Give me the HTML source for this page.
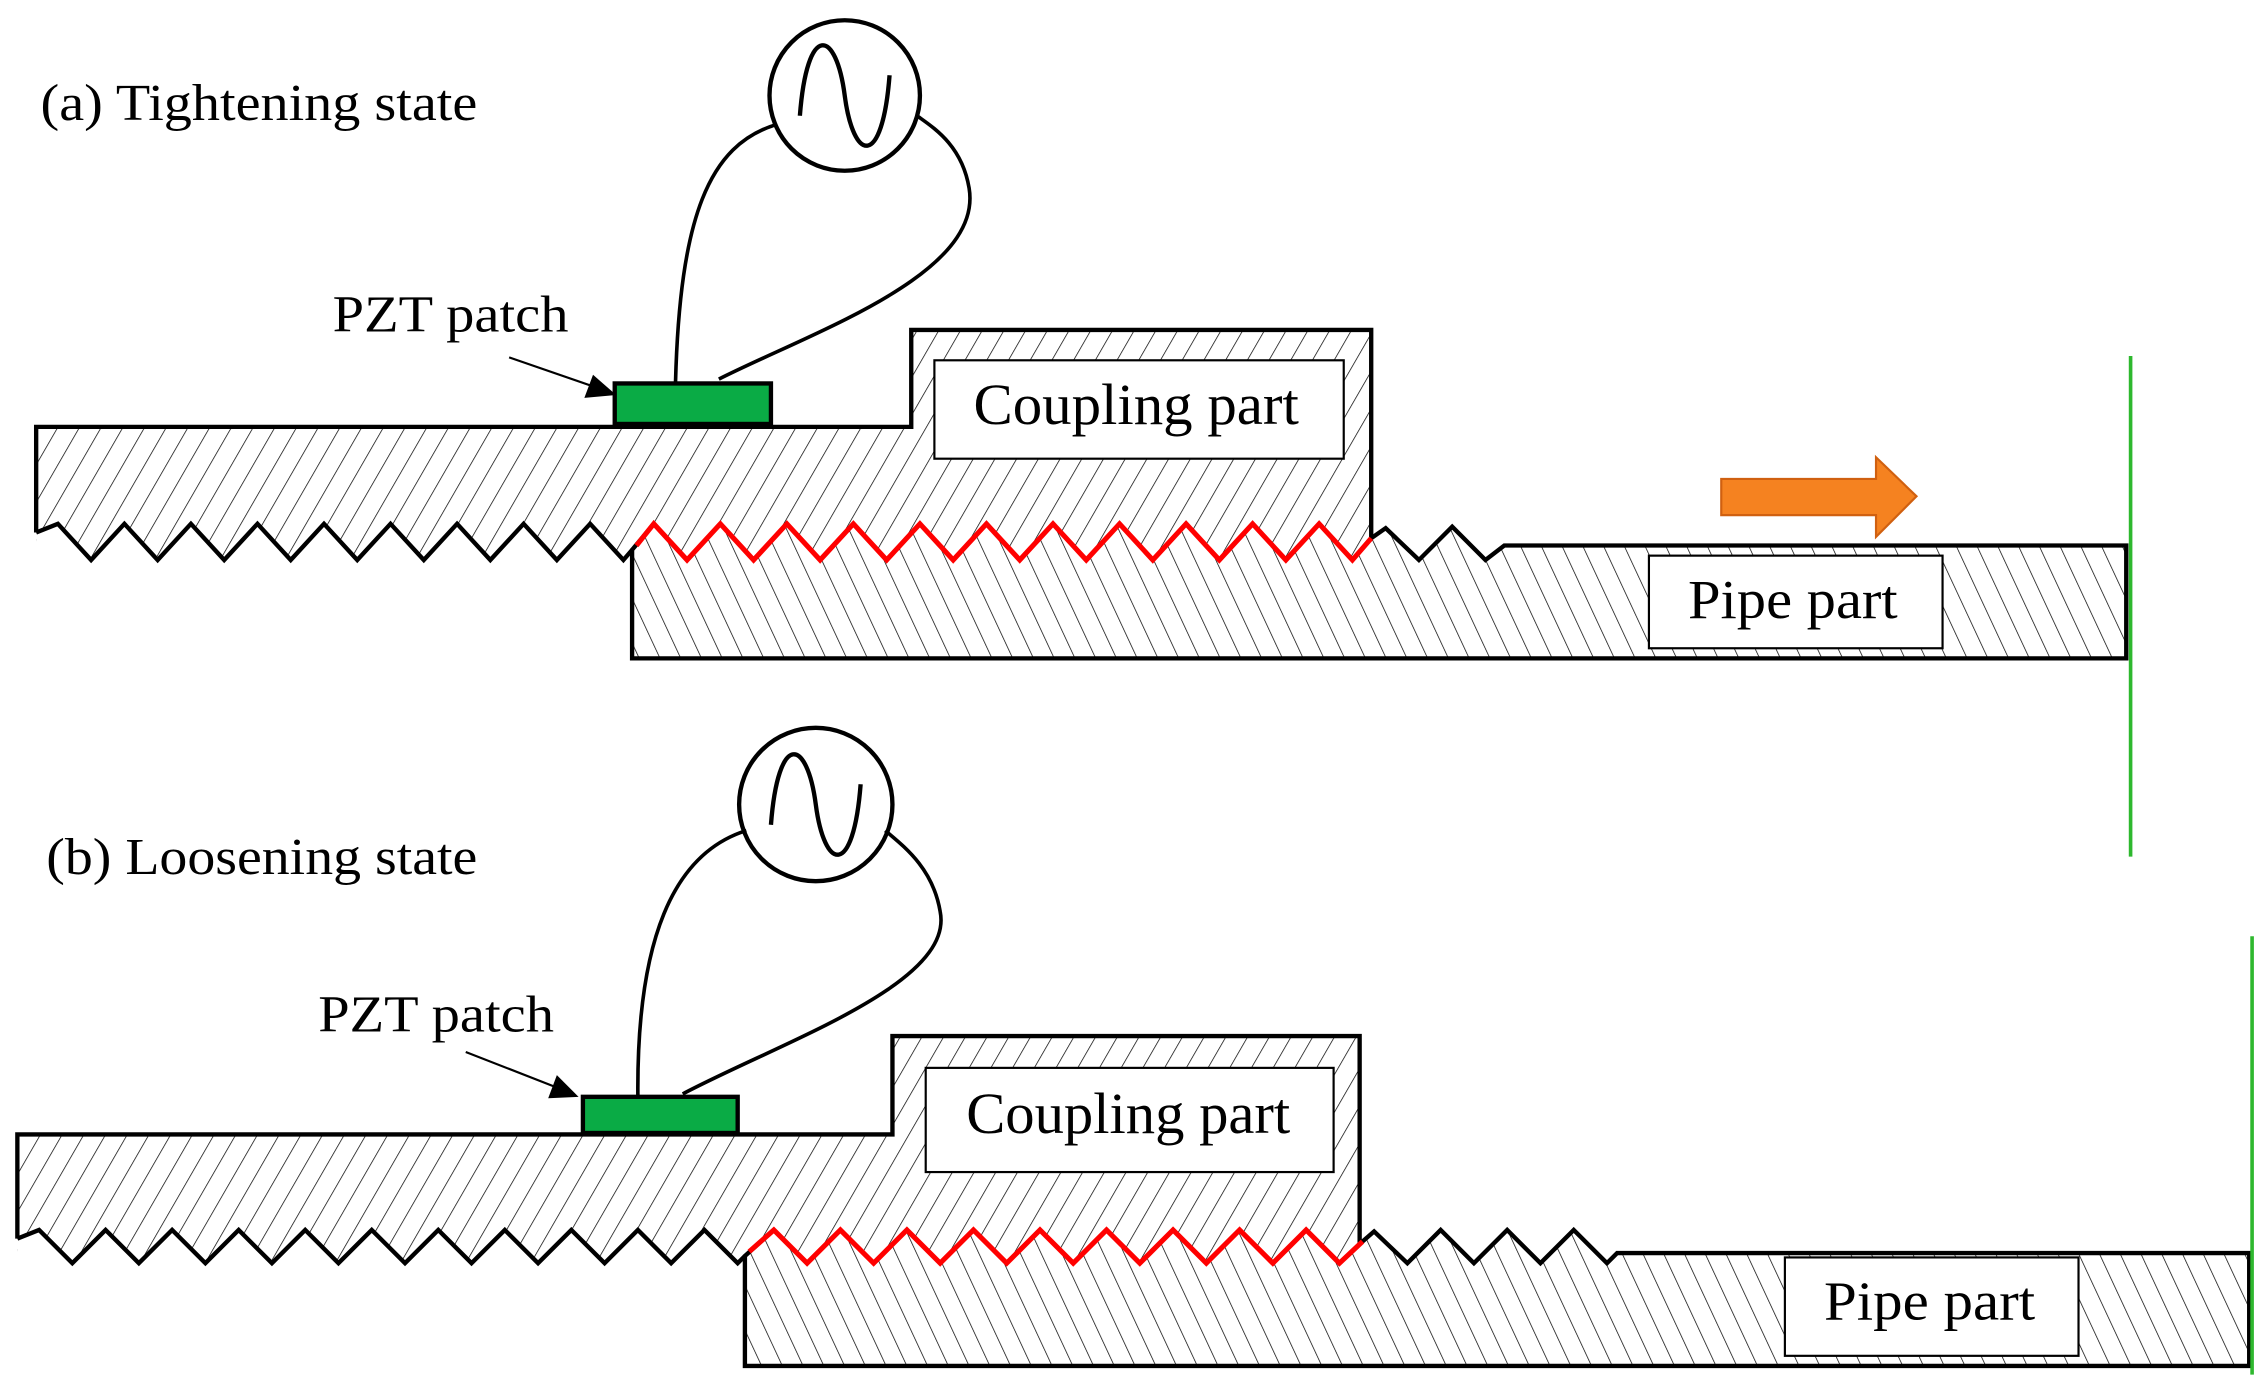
<!DOCTYPE html>
<html><head><meta charset="utf-8"><style>
html,body{margin:0;padding:0;background:#fff;}
svg{display:block;}
text{font-family:"Liberation Serif",serif;fill:#000;}
</style></head><body>
<svg width="2268" height="1392" viewBox="0 0 1568 962" preserveAspectRatio="none" xmlns="http://www.w3.org/2000/svg">
<defs>
<pattern id="hf" patternUnits="userSpaceOnUse" width="13" height="13" patternTransform="rotate(30)">
<line x1="0" y1="0" x2="0" y2="13" stroke="#000" stroke-width="1"/></pattern>
<pattern id="hb" patternUnits="userSpaceOnUse" width="13" height="13" patternTransform="rotate(-25)">
<line x1="0" y1="0" x2="0" y2="13" stroke="#000" stroke-width="1"/></pattern>
</defs>

<!-- (a) -->
<text x="28" y="83" font-size="36" textLength="302" lengthAdjust="spacingAndGlyphs">(a) Tightening state</text>
<path d="M25,295 L630,295 L630,228 L948,228 L948,390 L25,390 Z" fill="url(#hf)"/>
<path d="M25,368 L40,362 L63,387 L86,362 L109,387 L132,362 L155,387 L178,362 L201,387 L224,362 L247,387 L270,362 L293,387 L316,362 L339,387 L362,362 L385,387 L408,362 L431,387 L437,380 L437,400 L25,400 Z" fill="#fff"/>
<path d="M437,380 L452,362 L475,387 L498,362 L521,387 L544,362 L567,387 L590,362 L613,387 L636,362 L659,387 L682,362 L705,387 L728,362 L751,387 L774,362 L797,387 L820,362 L843,387 L866,362 L889,387 L912,362 L935,387 L948,372 L958,365 L981,387 L1004,364 L1027,387 L1040,377 L1470,377 L1470,455 L437,455 Z" fill="#fff"/>
<path d="M437,380 L452,362 L475,387 L498,362 L521,387 L544,362 L567,387 L590,362 L613,387 L636,362 L659,387 L682,362 L705,387 L728,362 L751,387 L774,362 L797,387 L820,362 L843,387 L866,362 L889,387 L912,362 L935,387 L948,372 L958,365 L981,387 L1004,364 L1027,387 L1040,377 L1470,377 L1470,455 L437,455 Z" fill="url(#hb)" stroke="#000" stroke-width="3"/>
<path d="M25,368 L25,295 L630,295 L630,228 L948,228 L948,372" fill="none" stroke="#000" stroke-width="3"/>
<path d="M25,368 L40,362 L63,387 L86,362 L109,387 L132,362 L155,387 L178,362 L201,387 L224,362 L247,387 L270,362 L293,387 L316,362 L339,387 L362,362 L385,387 L408,362 L431,387 L437,380" fill="none" stroke="#000" stroke-width="3"/>
<path d="M440,377 L452,362 L475,387 L498,362 L521,387 L544,362 L567,387 L590,362 L613,387 L636,362 L659,387 L682,362 L705,387 L728,362 L751,387 L774,362 L797,387 L820,362 L843,387 L866,362 L889,387 L912,362 L935,387 L948,372" fill="none" stroke="#f00" stroke-width="3.5"/>
<rect x="646" y="249" width="283" height="68" fill="#fff" stroke="#000" stroke-width="1.5"/>
<text x="673" y="293" font-size="40" textLength="225" lengthAdjust="spacingAndGlyphs">Coupling part</text>
<rect x="1140" y="384" width="203" height="64" fill="#fff" stroke="#000" stroke-width="1.5"/>
<text x="1167" y="427" font-size="38" textLength="145" lengthAdjust="spacingAndGlyphs">Pipe part</text>
<rect x="425" y="265" width="108" height="28" fill="#0aab45" stroke="#000" stroke-width="3"/>
<text x="230" y="229" font-size="36" textLength="163" lengthAdjust="spacingAndGlyphs">PZT patch</text>
<line x1="352" y1="247" x2="410" y2="267" stroke="#000" stroke-width="1.5"/>
<polygon points="426,273 404,275 410,259" fill="#000"/>
<circle cx="584" cy="66" r="52" fill="#fff" stroke="#000" stroke-width="3"/>
<path d="M553,80 C558,15 578,20 584,66 C590,112 610,117 615,52" fill="none" stroke="#000" stroke-width="3"/>
<path d="M467,265 C470,150 490,100 537,86" fill="none" stroke="#000" stroke-width="2.5"/>
<path d="M497,262 C560,230 680,190 670,130 C665,100 645,88 634,80" fill="none" stroke="#000" stroke-width="2.5"/>
<polygon points="1190,331 1297,331 1297,316 1325,343 1297,371 1297,356 1190,356" fill="#f58220" stroke="#d06010" stroke-width="1.5"/>
<line x1="1473" y1="246" x2="1473" y2="592" stroke="#2eb82e" stroke-width="2.5"/>

<!-- (b) -->
<text x="32" y="604" font-size="36" textLength="298" lengthAdjust="spacingAndGlyphs">(b) Loosening state</text>
<path d="M12,784 L617,784 L617,716 L940,716 L940,876 L12,876 Z" fill="url(#hf)"/>
<path d="M12,856 L27,850 L50,873 L73,850 L96,873 L119,850 L142,873 L165,850 L188,873 L211,850 L234,873 L257,850 L280,873 L303,850 L326,873 L349,850 L372,873 L395,850 L418,873 L441,850 L464,873 L487,850 L510,873 L515,868 L515,890 L12,890 Z" fill="#fff"/>
<path d="M515,868 L535,850 L558,873 L581,850 L604,873 L627,850 L650,873 L673,850 L696,873 L719,850 L742,873 L765,850 L788,873 L811,850 L834,873 L857,850 L880,873 L903,850 L926,873 L942,858 L950,851 L973,873 L996,850 L1019,873 L1042,850 L1065,873 L1088,850 L1111,873 L1118,866 L1555,866 L1555,944 L515,944 Z" fill="#fff"/>
<path d="M515,868 L535,850 L558,873 L581,850 L604,873 L627,850 L650,873 L673,850 L696,873 L719,850 L742,873 L765,850 L788,873 L811,850 L834,873 L857,850 L880,873 L903,850 L926,873 L942,858 L950,851 L973,873 L996,850 L1019,873 L1042,850 L1065,873 L1088,850 L1111,873 L1118,866 L1555,866 L1555,944 L515,944 Z" fill="url(#hb)" stroke="#000" stroke-width="3"/>
<path d="M12,856 L12,784 L617,784 L617,716 L940,716 L940,860" fill="none" stroke="#000" stroke-width="3"/>
<path d="M12,856 L27,850 L50,873 L73,850 L96,873 L119,850 L142,873 L165,850 L188,873 L211,850 L234,873 L257,850 L280,873 L303,850 L326,873 L349,850 L372,873 L395,850 L418,873 L441,850 L464,873 L487,850 L510,873 L515,868" fill="none" stroke="#000" stroke-width="3"/>
<path d="M518,865 L535,850 L558,873 L581,850 L604,873 L627,850 L650,873 L673,850 L696,873 L719,850 L742,873 L765,850 L788,873 L811,850 L834,873 L857,850 L880,873 L903,850 L926,873 L942,858" fill="none" stroke="#f00" stroke-width="3.5"/>
<rect x="640" y="738" width="282" height="72" fill="#fff" stroke="#000" stroke-width="1.5"/>
<text x="668" y="783" font-size="40" textLength="224" lengthAdjust="spacingAndGlyphs">Coupling part</text>
<rect x="1234" y="869" width="203" height="68" fill="#fff" stroke="#000" stroke-width="1.5"/>
<text x="1261" y="912" font-size="38" textLength="146" lengthAdjust="spacingAndGlyphs">Pipe part</text>
<rect x="403" y="758" width="107" height="25" fill="#0aab45" stroke="#000" stroke-width="3"/>
<text x="220" y="713" font-size="36" textLength="163" lengthAdjust="spacingAndGlyphs">PZT patch</text>
<line x1="322" y1="727" x2="386" y2="752" stroke="#000" stroke-width="1.5"/>
<polygon points="400,758 379,759 385,743" fill="#000"/>
<circle cx="564" cy="556" r="53" fill="#fff" stroke="#000" stroke-width="3"/>
<path d="M533,570 C538,505 558,510 564,556 C570,602 590,607 595,542" fill="none" stroke="#000" stroke-width="3"/>
<path d="M441,758 C440,650 465,590 516,574" fill="none" stroke="#000" stroke-width="2.5"/>
<path d="M472,756 C540,720 660,680 650,630 C645,600 625,585 612,574" fill="none" stroke="#000" stroke-width="2.5"/>
<line x1="1557" y1="647" x2="1557" y2="950" stroke="#2eb82e" stroke-width="2.5"/>
</svg>
</body></html>
